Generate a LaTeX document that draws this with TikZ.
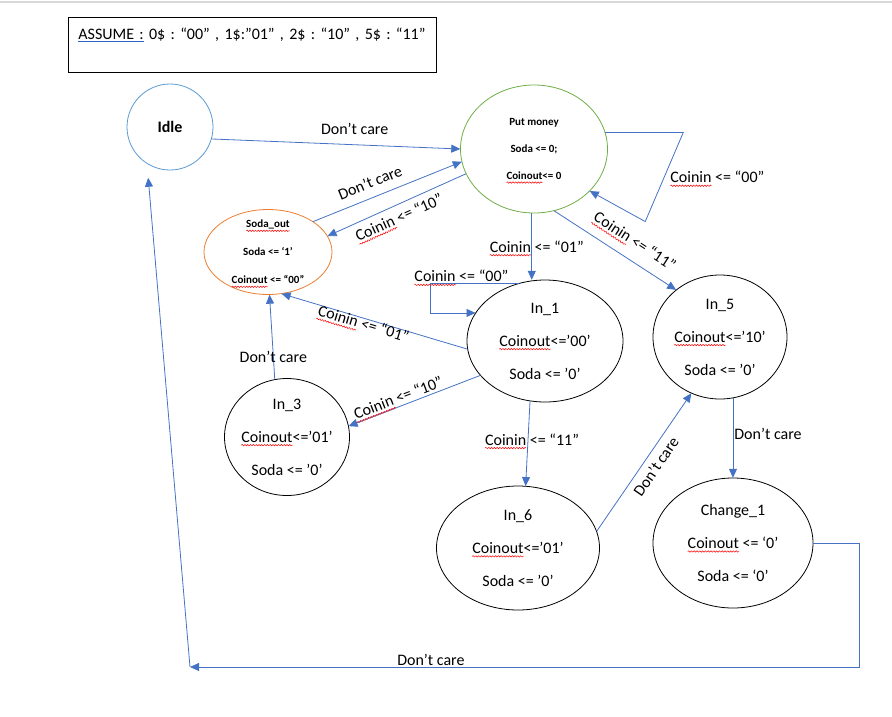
\documentclass[tikz,border=0pt]{standalone}
\usepackage{fontspec}
\setmainfont{Carlito}
\usetikzlibrary{positioning,shapes.geometric,arrows.meta,decorations.pathmorphing}
\frenchspacing

\definecolor{wordblue}{HTML}{4472C4}
\definecolor{idleblue}{HTML}{5B9BD5}
\definecolor{putgreen}{HTML}{70AD47}
\definecolor{sodaorange}{HTML}{ED7D31}
\definecolor{gramblue}{HTML}{2E62C8}

\newsavebox\spellbox
\newcommand\spell[1]{\sbox\spellbox{#1}%
  \tikz[overlay, baseline=0pt]\draw[-, red, line width=0.5pt, decorate,
    decoration={snake, amplitude=0.7pt, segment length=2.8pt}] (0pt,-3pt) -- (\wd\spellbox,-3pt);%
  \usebox\spellbox}
\newcommand\gramline[1]{\sbox\spellbox{#1}%
  \rlap{\textcolor{gramblue}{\rule[-2.5pt]{\wd\spellbox}{0.9pt}}}\usebox\spellbox}

\begin{document}
\begin{tikzpicture}[x=1pt, y=-1pt, -{Triangle[length=9pt,width=8pt]},
    node distance =1cm and 2cm, on grid,
    line width=0.8pt,
    every node/.style={font=\fontsize{16}{19}\selectfont},
    state/.style={ellipse, draw=black, inner sep=-8pt, align=center},
    small/.style={font=\fontsize{11}{13}\selectfont\bfseries},
    link/.style={draw=wordblue},
    lab/.style={on grid=false, inner sep=1pt, text=black}
    ]

\useasboundingbox (0,0) rectangle (892,716);
\draw[-, black!15, line width=2.5pt] (0,2) -- (892,2);

\node[draw, line width=0.9pt, anchor=north west, text width=348pt, align=left,
      inner xsep=10pt, inner ysep=0pt, text height=22pt, text depth=33pt] (assume) at (68,17)
  {\gramline{ASSUME :} 0\$ : “00” , 1\$:”01” , 2\$ : “10” , 5\$ : “11”};

\node[state, draw=putgreen, minimum width=147pt, minimum height=128pt, small] (put) at (534,149)
  {Put money\\[14pt]Soda <= 0;\\[14pt]\spell{Coinout}<= 0};
\node[circle, draw=idleblue, minimum size=86pt, font=\fontsize{16}{19}\selectfont\bfseries] (idle)
  [above left=22pt and 364pt of put] {Idle};
\node[state, draw=sodaorange, minimum width=128pt, minimum height=85pt, small] (sodaout)
  [below left=103pt and 266pt of put]
  {\spell{Soda\_out}\\[15pt]Soda <= ‘1’\\[15pt]\spell{Coinout} <= “00”};
\node[state, minimum width=156pt, minimum height=122pt] (in1) [below right=192pt and 11pt of put]
  {In\_1\\[14pt]\spell{Coinout}<=’00’\\[14pt]Soda <= ’0’};
\node[state, minimum width=134pt, minimum height=124pt] (in5) [above right=4pt and 175pt of in1]
  {In\_5\\[14pt]\spell{Coinout}<=’10’\\[14pt]Soda <= ’0’};
\node[state, minimum width=125pt, minimum height=117pt] (in3) [below left=96pt and 258pt of in1]
  {In\_3\\[14pt]\spell{Coinout}<=’01’\\[14pt]Soda <= ’0’};
\node[state, minimum width=163pt, minimum height=124pt] (in6) [below left=207pt and 27pt of in1]
  {In\_6\\[14pt]\spell{Coinout}<=’01’\\[14pt]Soda <= ’0’};
\node[state, minimum width=160pt, minimum height=130pt] (change) [below right=206pt and 13pt of in5]
  {Change\_1\\[14pt]\spell{Coinout} <= ‘0’\\[14pt]Soda <= ‘0’};
\coordinate (ret) at (190,667);

\draw[link] (idle.-16) -- node[lab, above=9pt, pos=0.575] {Don’t care} (put.180);
\draw[link] (sodaout.34) -- node[lab, sloped, above=8pt, pos=0.42] {Don’t care} (put.190);
\draw[link] (put.200) -- node[lab, sloped, below=5pt, pos=0.52] {\spell{Coinin} <= “10”} (sodaout.15);
\draw[link] (put.13) -- ++(78,0) -- node[lab, right=5pt, pos=0.5] {\spell{Coinin} <= “00”} ++(-38,89) -- (put.-37);
\draw[link] (put.-92) -- node[lab, pos=0.5, xshift=5pt] {\spell{Coinin} <= “01”} (put.-92 |- in1.north);
\draw[link] (put.-72) -- node[lab, sloped, above=12pt, pos=0.58] {\spell{Coinin} <= “11”} (in5.133);
\draw[link] (in1.114) -- node[lab, above, pos=0.65] {\spell{Coinin} <= “00”} ++(-89,0) |- (in1.158);
\draw[link] (in1.186) -- node[lab, sloped, below=-2pt, pos=0.55] {\spell{Coinin} <= “01”} (sodaout.-72);
\draw[link] (in1.208) -- node[lab, sloped, above=2pt, pos=0.6] {\spell{Coinin} <= “10”} (in3.10);
\draw[link] (in3.102) -- node[lab, pos=0.27] {Don’t care} (sodaout.-88);
\draw[link] (in1.-104) -- node[lab, pos=0.45, xshift=4pt] {\spell{Coinin} <= “11”} (in6.83);
\draw[link] (in6.12) -- node[lab, sloped, below=5pt, pos=0.52] {Don’t care} (in5.-117);
\draw[link] (in5.-78) -- node[lab, right, pos=0.45] {Don’t care} (in5.-78 |- change.north);
\draw[link] (change.east) -- ++(46,0) |- node[lab, above, pos=0.82] {Don’t care} (ret);
\draw[link, shorten >=14pt] (ret) -- (idle.238);
\end{tikzpicture}
\end{document}
